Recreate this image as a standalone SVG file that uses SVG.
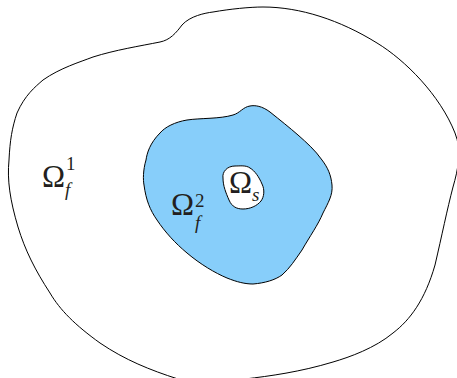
<svg xmlns="http://www.w3.org/2000/svg" width="457" height="378" viewBox="0 0 457 378">
<style>
.ln{stroke:#000;stroke-width:1;fill:none}
.t{font-family:"Liberation Serif",serif;fill:#231f20}
.big{font-size:31px}
.sm{font-size:19px}
.it{font-style:italic}
</style>
<rect width="457" height="378" fill="#fff"/>
<g id="outer">
<path class="ln" d="M263,7 C300,7 340,20 377,43 C405,60 440,95 455,133 C462,150 458,170 453,187 C447,210 442,235 435,265 C425,300 410,320 393,333 C375,348 350,357 333,362 C300,372 270,376 245,379 M178,379 C150,370 125,360 100,343 C75,325 60,310 50,293 C35,270 25,250 18,227 C10,200 7,180 9,160 C10,140 12,128 17,113 C25,95 35,87 43,80 C60,68 80,62 93,57 C115,50 140,46 160,42 C170,40 176,33 182,25 C190,16 205,13 213,12 C230,9 250,7 263,7"/>
</g>
<g id="fluid2">
<path class="ln" style="fill:#87cefa" d="M233,115 C220,119 200,118 187,120 C175,122 165,127 160,133 C150,143 147,153 146,160 C143,170 143,180 144,185 C146,200 150,210 157,220 C165,232 175,243 187,253 C200,264 215,273 227,278 C237,282 245,284 253,284 C265,283 275,280 282,275 C290,268 295,260 302,250 C310,236 318,225 323,213 C328,203 333,195 332,185 C331,175 328,168 322,160 C315,150 307,143 298,135 C290,128 280,120 270,112 C262,106 255,105 250,106 C243,107 240,113 233,115 Z"/>
</g>
<g id="solid">
<path class="ln" style="fill:#fff" d="M223,178 C222,172 227,166 235,166 C240,166 246,165 250,168 C255,171 259,177 262,184 C265,190 264,197 261,201 C257,206 250,209 243,209 C237,209 232,207 229,200 C226,193 223,186 223,178 Z"/>
</g>
<g id="labels">
<text class="t big" x="42" y="187">Ω</text>
<text class="t sm" x="66" y="170">1</text>
<text class="t sm it" x="65" y="196">f</text>
<text class="t big" x="171" y="215">Ω</text>
<text class="t sm" x="195" y="207">2</text>
<text class="t sm it" x="195" y="229">f</text>
<text class="t big" x="229" y="193">Ω</text>
<text class="t sm it" x="252" y="201">s</text>
</g>
</svg>
